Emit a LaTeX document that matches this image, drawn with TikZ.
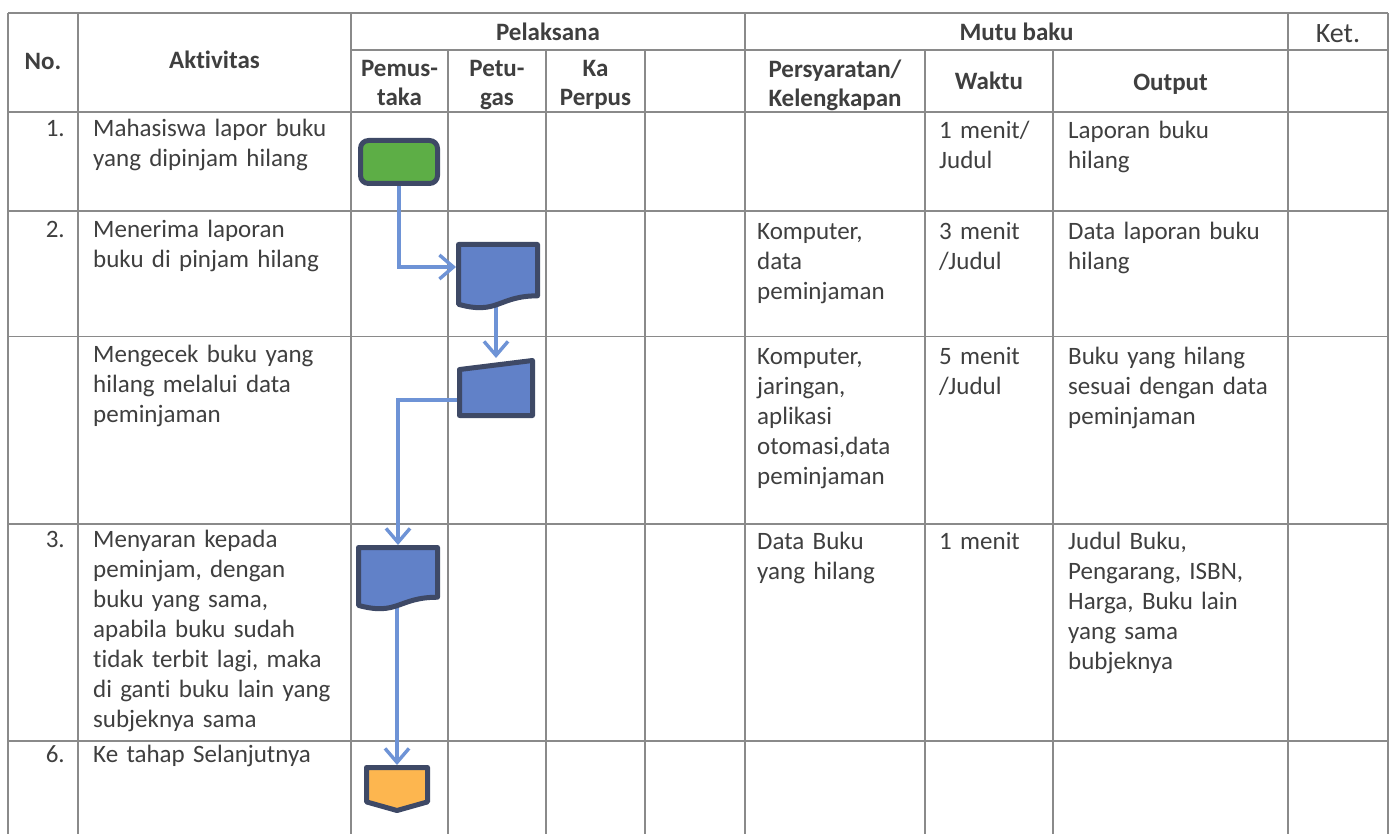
\documentclass[tikz,border=0pt]{standalone}
\usepackage{fontspec}
\setmainfont{Carlito}[Ligatures=NoCommon]
\usetikzlibrary{arrows.meta,calc}
\definecolor{gridc}{HTML}{8A8A8A}
\definecolor{txt}{HTML}{3F3F3F}
\definecolor{bordc}{HTML}{3E4966}
\definecolor{greenc}{HTML}{5DAE46}
\definecolor{bluec}{HTML}{6181C8}
\definecolor{orangec}{HTML}{FDB64F}
\definecolor{flowc}{HTML}{6E93D6}
\tikzset{
  gridline/.style={draw=gridc, line width=1.2pt},
  hdr/.style={font=\bfseries\fontsize{25}{29}\selectfont, text=txt, inner sep=0, align=center},
  bodytext/.style={anchor=north west, inner sep=0, align=left, text width=#1, font=\fontsize{25}{30}\selectfont, text=txt},
  numtext/.style={anchor=north east, inner sep=0, align=right, font=\fontsize{25}{30}\selectfont, text=txt},
  shapebox/.style={draw=none, inner sep=0, outer sep=0},
  fshape/.style={draw=bordc, line width=5pt, line join=round},
  flow/.style={draw=flowc, line width=3.4pt, -{Straight Barb[length=14pt,width=24pt,line width=3.4pt]}, shorten >=2.5pt},
}
\begin{document}
\begin{tikzpicture}[x=1pt,y=-1pt]
\useasboundingbox (0,0) rectangle (1389,834);
\fill[white] (0,0) rectangle (1389,834);
% ---------- grid ----------
\draw[gridline] (8,13) -- (1388,13);
\draw[gridline] (351,50) -- (1388,50);
\foreach \yy in {112,211,336.5,524,741}{\draw[gridline] (8,\yy) -- (1388,\yy);}
\foreach \xx in {8,78,351,745,1288,1388}{\draw[gridline] (\xx,13) -- (\xx,834);}
\foreach \xx in {448,546,645,925,1053}{\draw[gridline] (\xx,50) -- (\xx,834);}
% ---------- header ----------
\node[hdr, anchor=base] (hno) at (43,70) {No.};
\node[hdr, anchor=base] (hakt) at (214.5,69) {Aktivitas};
\node[hdr, anchor=base] (hpel) at (548,41) {Pelaksana};
\node[hdr, anchor=base] (hmutu) at (1016.5,41) {Mutu baku};
\node[anchor=base, inner sep=0, font=\fontsize{28}{30}\selectfont, text=txt] (hket) at (1338,43) {Ket.};
\node[hdr, anchor=north] (hpem) at (399.5,56) {\strut Pemus-\\taka};
\node[hdr, anchor=north] (hpet) at (497,56) {\strut Petu-\\gas};
\node[hdr, anchor=north] (hka) at (595.5,56) {\strut Ka\\Perpus};
\node[hdr, anchor=north] (hsyar) at (835,57) {\strut Persyaratan/\\Kelengkapan};
\node[hdr, anchor=base] (hwak) at (989,90) {Waktu};
\node[hdr, anchor=base] (hout) at (1170.5,91) {Output};
% ---------- row 1 ----------
\node[numtext] (n1) at (65,115) {\strut 1.};
\node[bodytext=258] (a1) at (93,115) {\strut Mahasiswa lapor buku\\yang dipinjam hilang};
\node[bodytext=110] (w1) at (939,117) {\strut 1 menit/\\Judul};
\node[bodytext=215] (o1) at (1068,117) {\strut Laporan buku\\hilang};
% ---------- row 2 ----------
\node[numtext] (n2) at (65,216) {\strut 2.};
\node[bodytext=258] (a2) at (93,216) {\strut Menerima laporan\\buku di pinjam hilang};
\node[bodytext=165] (p2) at (757,218) {\strut Komputer,\\data\\peminjaman};
\node[bodytext=110] (w2) at (939,218) {\strut 3 menit\\/Judul};
\node[bodytext=215] (o2) at (1068,218) {\strut Data laporan buku\\hilang};
% ---------- row 3 ----------
\node[bodytext=258] (a3) at (93,341) {\strut Mengecek buku yang\\hilang melalui data\\peminjaman};
\node[bodytext=165] (p3) at (757,343) {\strut Komputer,\\jaringan,\\aplikasi\\otomasi,data\\peminjaman};
\node[bodytext=110] (w3) at (939,343) {\strut 5 menit\\/Judul};
\node[bodytext=215] (o3) at (1068,343) {\strut Buku yang hilang\\sesuai dengan data\\peminjaman};
% ---------- row 4 ----------
\node[numtext] (n4) at (65,526) {\strut 3.};
\node[bodytext=258] (a4) at (93,526) {\strut Menyaran kepada\\peminjam, dengan\\buku yang sama,\\apabila buku sudah\\tidak terbit lagi, maka\\di ganti buku lain yang\\subjeknya sama};
\node[bodytext=165] (p4) at (757,528) {\strut Data Buku\\yang hilang};
\node[bodytext=110] (w4) at (939,528) {\strut 1 menit};
\node[bodytext=215] (o4) at (1068,528) {\strut Judul Buku,\\Pengarang, ISBN,\\Harga, Buku lain\\yang sama\\bubjeknya};
% ---------- row 5 ----------
\node[numtext] (n5) at (65,741) {\strut 6.};
\node[bodytext=258] (a5) at (93,741) {\strut Ke tahap Selanjutnya};
% ---------- flow shapes (boxes) ----------
\node[shapebox, minimum width=77, minimum height=43] (s1) at (399,162) {};
\node[shapebox, minimum width=79, minimum height=64] (s2) at (498,276.5) {};
\node[shapebox, minimum width=73, minimum height=55] (s3) at (496,388) {};
\node[shapebox, minimum width=79, minimum height=62] (s4) at (398,578.5) {};
\node[shapebox, minimum width=61, minimum height=43] (s5) at (397,789) {};
% ---------- connectors ----------
\draw[flow] (s1.center) |- ([yshift=9.5pt]s2.west);
\draw[flow] (s3.north |- s2.center) -- (s3.north);
\draw[flow] ([yshift=-12pt]s3.west) -| (s4.north);
\draw[flow] (s5.north |- s4.center) -- (s5.north);
% ---------- shapes ----------
\draw[fshape, fill=greenc, rounded corners=8pt] (s1.north west) rectangle (s1.south east);
\draw[fshape, fill=bluec] (s2.north west) -- (s2.north east)
  -- ($(s2.north east)!0.802!(s2.south east)$)
  .. controls ($(s2.north)!0.802!(s2.south)$) and ($(s2.north)!1.107!(s2.south)$)
  .. ($(s2.north west)!0.934!(s2.south west)$) -- cycle;
\draw[fshape, fill=bluec] ($(s3.north west)!0.164!(s3.south west)$) -- (s3.north east)
  -- (s3.south east) -- (s3.south west) -- cycle;
\draw[fshape, fill=bluec] (s4.north west) -- (s4.north east)
  -- ($(s4.north east)!0.802!(s4.south east)$)
  .. controls ($(s4.north)!0.802!(s4.south)$) and ($(s4.north)!1.107!(s4.south)$)
  .. ($(s4.north west)!0.934!(s4.south west)$) -- cycle;
\draw[fshape, fill=orangec] (s5.north west) -- (s5.north east)
  -- ($(s5.north east)!0.8!(s5.south east)$) -- (s5.south)
  -- ($(s5.north west)!0.8!(s5.south west)$) -- cycle;
\end{tikzpicture}
\end{document}
